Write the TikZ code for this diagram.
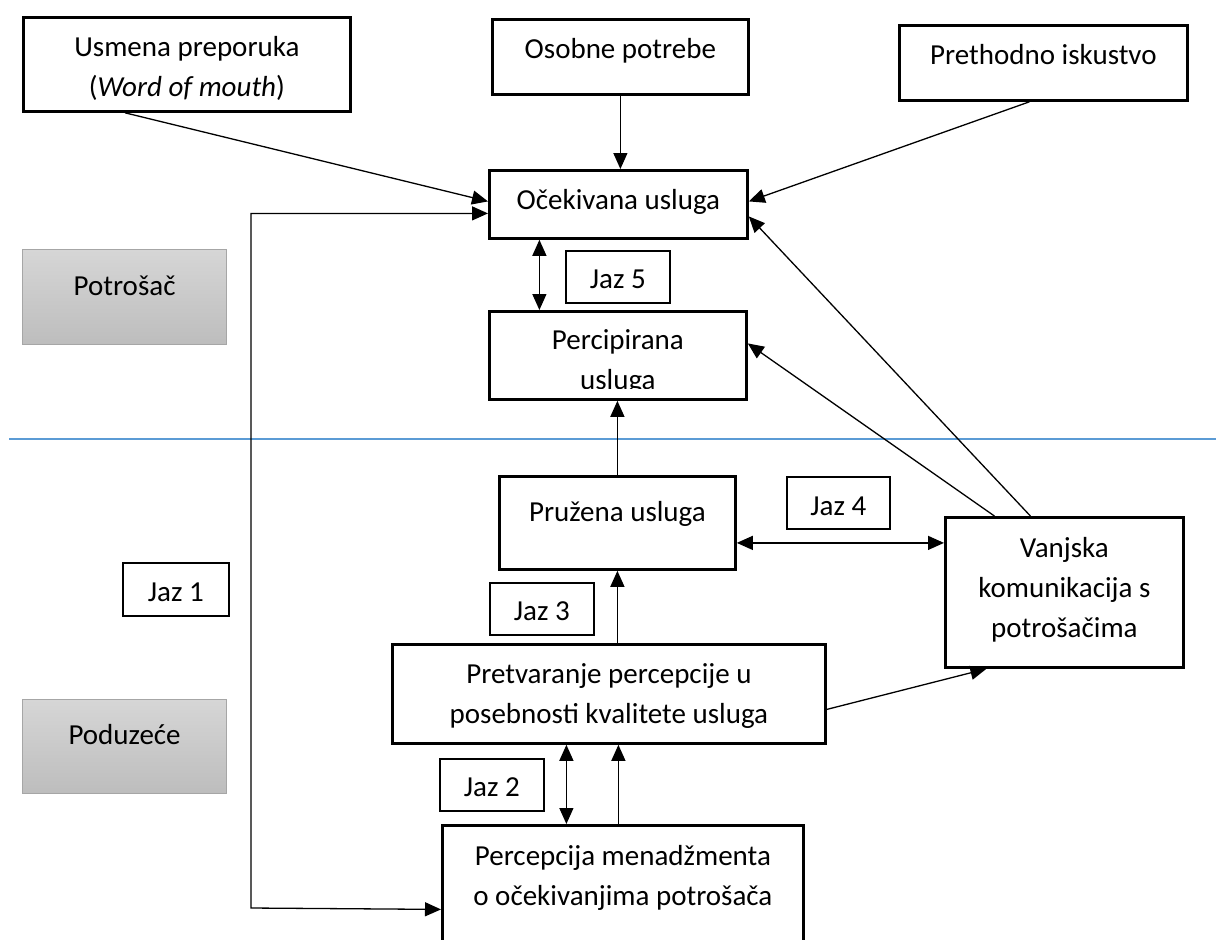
\documentclass[tikz,border=0pt]{standalone}
\usepackage{fontspec}
\setmainfont{Carlito}
\usetikzlibrary{arrows.meta}
\definecolor{linija}{RGB}{91,155,213}
\definecolor{sivaA}{RGB}{214,214,214}
\definecolor{sivaB}{RGB}{189,189,189}
\definecolor{sivaR}{RGB}{166,166,166}
\newcommand{\redovi}[1]{\begin{tabular}[t]{@{}c@{}}#1\end{tabular}}
\tikzset{
  mainbox/.style={draw, line width=1.4pt, anchor=north west, inner sep=0pt, text height=19.5pt},
  jazbox/.style={draw, line width=0.9pt, anchor=north west, inner sep=0pt, text height=19pt, minimum width=52pt},
  sidebox/.style={draw=sivaR, line width=0.6pt, top color=sivaA, bottom color=sivaB, anchor=north west, inner sep=0pt, text height=23pt, text depth=24.5pt, minimum width=102pt},
  arr/.style={line width=0.65pt, -{Triangle[length=8pt,width=7pt]}},
  dvo/.style={line width=0.65pt, {Triangle[length=8pt,width=7pt]}-{Triangle[length=8pt,width=7pt]}}
}

\begin{document}
\begin{tikzpicture}[x=0.5pt, y=-0.5pt, font=\fontsize{14.5pt}{20pt}\selectfont]
\useasboundingbox (0,0) rectangle (1216,939);
\clip (0,0) rectangle (1216,939);

\node[mainbox, minimum width=163.5pt, text depth=27.5pt] (usmena) at (22,16) {\redovi{Usmena preporuka\\(\textit{Word of mouth})}};
\node[mainbox, minimum width=128pt, text depth=18pt] (osobne) at (491,18) {Osobne potrebe};
\node[mainbox, minimum width=144pt, text depth=18pt] (prethodno) at (898,24) {Prethodno iskustvo};
\node[mainbox, minimum width=129pt, text depth=14.5pt] (ocekivana) at (488,169) {Očekivana usluga};
\node[jazbox, text depth=7pt] (jaz5) at (565,250) {Jaz 5};
\node[mainbox, minimum width=128.5pt, text height=19pt, text depth=25pt] (percipirana) at (488,310) {\redovi{Percipirana\\usluga}};
\fill[white] ([xshift=1.4pt,yshift=1.4pt]percipirana.south west) rectangle ([xshift=-1.4pt,yshift=5.7pt]percipirana.south east);

\node[sidebox] (potrosac) at (22,249) {Potrošač};
\node[sidebox, text height=22.5pt] (poduzece) at (22,699) {Poduzeće};

\draw[linija, line width=0.75pt] (9,439) -- (1216,439);

\node[mainbox, minimum width=118pt, text height=22.5pt, text depth=24pt] (pruzena) at (498,475) {Pružena usluga};
\node[jazbox, minimum width=51.5pt, text height=19.5pt, text depth=6.5pt] (jaz4) at (786,476) {Jaz 4};
\node[mainbox, minimum width=119pt, text height=20pt, text depth=55pt] (vanjska) at (944,516) {\redovi{Vanjska\\komunikacija s\\potrošačima}};
\node[jazbox, minimum width=53pt, text height=19.5pt, text depth=7pt] (jaz1) at (122,562) {Jaz 1};
\node[jazbox, text depth=7pt] (jaz3) at (489,582) {Jaz 3};
\node[mainbox, minimum width=216.5pt, text depth=30pt] (pretvaranje) at (391,643) {\redovi{Pretvaranje percepcije u\\posebnosti kvalitete usluga}};
\node[jazbox, text depth=7pt] (jaz2) at (439,758) {Jaz 2};
\node[mainbox, minimum width=180.5pt, text height=20pt, text depth=48pt] (percepcija) at (441,824) {\redovi{Percepcija menadžmenta\\o očekivanjima potrošača}};

\coordinate (j5) at ([xshift=-39.5pt]ocekivana.south);
\coordinate (j4) at ([yshift=-10pt]pruzena.east);
\coordinate (j2) at ([xshift=-21.25pt]pretvaranje.south);
\coordinate (p1) at ([xshift=-2.25pt]percepcija.north);
\coordinate (kut) at (251,908);

\draw[arr] ([xshift=51.5pt]usmena.south west) -- ([yshift=1.5pt]ocekivana.west);
\draw[arr] (osobne.south) -- (osobne.south |- ocekivana.north);
\draw[arr] ([xshift=-7pt]prethodno.south) -- ([yshift=1.5pt]ocekivana.east);
\draw[arr] ([xshift=-17pt]vanjska.north) -- ([yshift=-6pt]ocekivana.east);
\draw[arr] ([xshift=-35pt]vanjska.north) -- ([yshift=6pt]percipirana.east);
\draw[dvo] (j5) -- (j5 |- percipirana.north);
\draw[arr] (pruzena.north) -- (pruzena.north |- percipirana.south);
\draw[dvo] (j4) -- (j4 -| vanjska.west);
\draw[arr] (pruzena.south |- pretvaranje.north) -- (pruzena.south);
\draw[arr] ([yshift=-7.75pt]pretvaranje.east) -- ([xshift=-39pt]vanjska.south);
\draw[dvo] (j2) -- (j2 |- percepcija.north);
\draw[arr] (p1) -- (p1 |- pretvaranje.south);
\draw[dvo] ([yshift=-4.5pt]ocekivana.west) -| (kut) -- ([yshift=-8pt]percepcija.west);
\end{tikzpicture}
\end{document}
